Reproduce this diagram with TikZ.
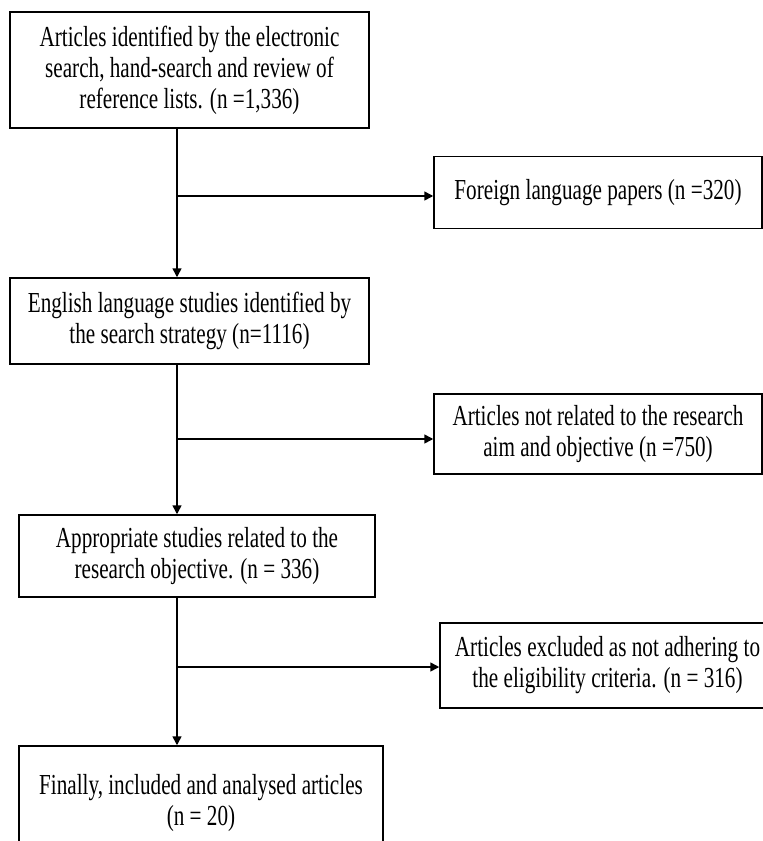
\documentclass[tikz,border=0pt]{standalone}
\usepackage{fontspec}
\setmainfont{Liberation Serif}[FakeStretch=0.73]
\usetikzlibrary{arrows.meta}
\begin{document}
\begin{tikzpicture}[x=1pt,y=-1pt,
  box/.style={draw, line width=1.5pt, inner sep=0pt, align=center, font=\fontsize{29}{31}\selectfont},
  arr/.style={-{Triangle[length=9pt,width=9pt]}, line width=1.5pt}]
\useasboundingbox (0,0) rectangle (763,841);
\node[box, minimum width=359, minimum height=116] (b1) at (189.5,70) {Articles identified by the electronic\\search, hand-search and review of\\reference lists. (n =1,336)};
\node[box, minimum width=328, minimum height=72] (b2) at (598,192.5) {Foreign language papers (n =320)};
\node[box, minimum width=359, minimum height=86] (b3) at (189.5,321) {English language studies identified by\\the search strategy (n=1116)};
\node[box, minimum width=328, minimum height=80] (b4) at (598,434) {Articles not related to the research\\aim and objective (n =750)};
\node[box, minimum width=356, minimum height=82] (b5) at (197,556) {Appropriate studies related to the\\research objective. (n = 336)};
\node[box, minimum width=335, minimum height=85] (b6) at (607.5,665.5) {Articles excluded as not adhering to\\the eligibility criteria. (n = 316)};
\node[box, minimum width=364, minimum height=114] (b7) at (201,803) {Finally, included and analysed articles\\(n = 20)};
\coordinate (j1) at (177,196);
\coordinate (j2) at (177,439);
\coordinate (j3) at (177,667);
\draw[arr] (b1.south -| j1) -- (b3.north -| j1);
\draw[arr] (j1) -- (b2.west |- j1);
\draw[arr] (b3.south -| j2) -- (b5.north -| j2);
\draw[arr] (j2) -- (b4.west |- j2);
\draw[arr] (b5.south -| j3) -- (b7.north -| j3);
\draw[arr] (j3) -- (b6.west |- j3);
\end{tikzpicture}
\end{document}
